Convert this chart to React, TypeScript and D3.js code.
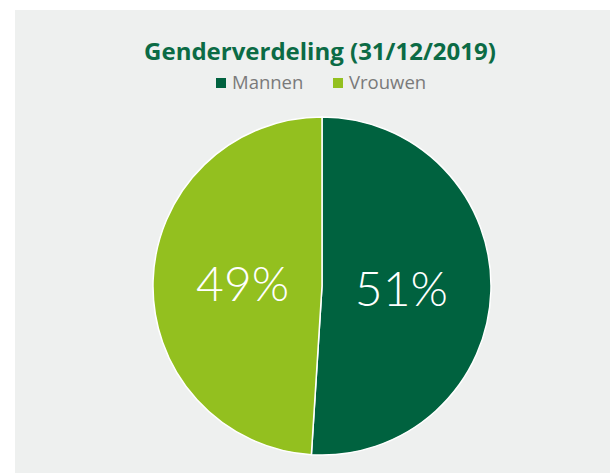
import React from "react";
import * as d3 from "d3";

const categories = ["Mannen", "Vrouwen"];
const values = [51, 49];
const colors = ["#00623f", "#93c01f"];
const title = "Genderverdeling (31/12/2019)";

const W = 610;
const H = 473;

export default function App() {
  const cx = 322;
  const cy = 286;
  const R = 169;
  const pie = d3
    .pie<number>()
    .sort(null)
    .value((d) => d)(values);
  const arc = d3.arc<d3.PieArcDatum<number>>().innerRadius(0).outerRadius(R);
  const labelArc = d3
    .arc<d3.PieArcDatum<number>>()
    .innerRadius(R * 0.47)
    .outerRadius(R * 0.47);
  const legendX = [216, 333];

  return (
    <svg
      width={W}
      height={H}
      style={{ position: "absolute", left: 0, top: 0, display: "block" }}
    >
      <rect x={0} y={0} width={W} height={H} fill="#ffffff" />
      <rect x={15} y={10} width={W - 15} height={H - 10} fill="#eef0ef" />
      <text
        x={320}
        y={60}
        textAnchor="middle"
        fontFamily="'Open Sans', sans-serif"
        fontWeight={700}
        fontSize={24}
        fill="#0b6b45"
      >
        {title}
      </text>
      {categories.map((c, i) => (
        <g key={c}>
          <rect x={legendX[i]} y={78} width={10} height={10} fill={colors[i]} />
          <text
            x={legendX[i] + 16}
            y={88.5}
            fontFamily="'Open Sans', sans-serif"
            fontSize={18.5}
            fill="#7a7a7a"
          >
            {c}
          </text>
        </g>
      ))}
      <g transform={`translate(${cx},${cy})`}>
        {pie.map((p, i) => (
          <path
            key={i}
            d={arc(p) || ""}
            fill={colors[i]}
            stroke="#ffffff"
            strokeWidth={1.5}
          />
        ))}
        {pie.map((p, i) => {
          const [x, y] = labelArc.centroid(p);
          return (
            <text
              key={"l" + i}
              x={x}
              y={y + 17}
              textAnchor="middle"
              fontFamily="Lato, sans-serif"
              fontWeight={300}
              fontSize={48}
              fill="#ffffff"
            >
              {values[i]}%
            </text>
          );
        })}
      </g>
    </svg>
  );
}
